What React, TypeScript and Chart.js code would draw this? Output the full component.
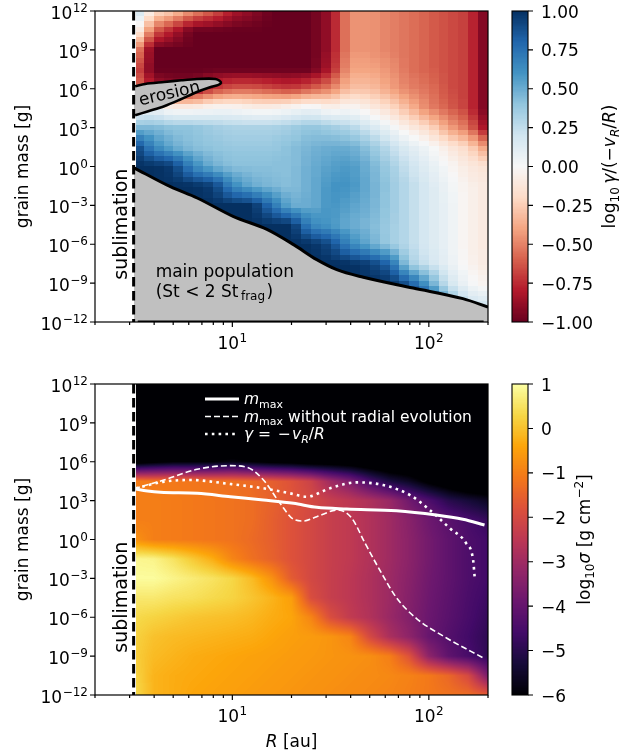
import React, { useEffect, useRef } from 'react';
import { Chart, registerables } from 'chart.js';

Chart.register(...registerables);

const FONT = '"DejaVu Sans", "Noto Sans", sans-serif';

/* ---------------- axes & ticks ---------------- */
const X_MIN = 2;
const X_MAX = 200;
const Y_MIN = 1e-12;
const Y_MAX = 1e12;
const X_MAJOR_TICKS = [10, 100];
const X_MAJOR_LABEL_EXP = [1, 2];
const X_MINOR_TICKS = [2, 3, 4, 5, 6, 7, 8, 9, 20, 30, 40, 50, 60, 70, 80, 90, 200];
const Y_TICK_EXP = [12, 9, 6, 3, 0, -3, -6, -9, -12];
const GAMMA_CB_TICKS = [1, 0.75, 0.5, 0.25, 0, -0.25, -0.5, -0.75, -1];
const SIGMA_CB_TICKS = [1, 0, -1, -2, -3, -4, -5, -6];
const SUBLIMATION_R = 3.145;

/* ---------------- field grids ---------------- */
// node positions: log10 R (columns) and log10 m (rows)
const FIELD_LOGR = [0.5, 0.6, 0.7, 0.8, 0.9, 1.0, 1.1, 1.2, 1.3, 1.4, 1.5, 1.6, 1.7, 1.8, 1.9, 2.0, 2.1, 2.2, 2.3];
const FIELD_LOGM = [12, 10.5, 9, 7.5, 6, 4.5, 3, 1.5, 0, -1.5, -3, -4.5, -6, -7.5, -9, -10.5, -12];
const FIELD_START_LOGR = 0.508;

// log10 gamma/(-vR/R); one column per FIELD_LOGR entry, values top (1e12) to bottom (1e-12)
const GAMMA_COLS = [
  [0.3, 0.05, -0.4, -0.6, -0.5, 0.0, 0.45, 0.95, 1, 1, 1, 1, 1, 1, 1, 1, 1],
  [-0.15, -0.6, -1, -1, -0.8, 0.05, 0.45, 0.65, 1, 1, 1, 1, 1, 1, 1, 1, 1],
  [-0.25, -0.8, -1, -1, -0.9, -0.05, 0.4, 0.5, 0.95, 1, 1, 1, 1, 1, 1, 1, 1],
  [-0.45, -1, -1, -1, -0.9, -0.05, 0.4, 0.42, 0.65, 1, 1, 1, 1, 1, 1, 1, 1],
  [-0.6, -1, -1, -1, -0.7, 0, 0.35, 0.4, 0.48, 0.95, 1, 1, 1, 1, 1, 1, 1],
  [-0.8, -1, -1, -1, -0.6, 0, 0.32, 0.38, 0.42, 0.65, 1, 1, 1, 1, 1, 1, 1],
  [-0.9, -1, -1, -1, -0.6, -0.05, 0.32, 0.38, 0.42, 0.5, 1, 1, 1, 1, 1, 1, 1],
  [-1, -1, -1, -1, -0.65, -0.05, 0.32, 0.38, 0.42, 0.45, 0.75, 1, 1, 1, 1, 1, 1],
  [-1, -1, -1, -1, -0.7, 0, 0.35, 0.42, 0.42, 0.42, 0.5, 1, 1, 1, 1, 1, 1],
  [-1, -1, -1, -1, -0.6, 0.05, 0.4, 0.47, 0.5, 0.5, 0.5, 0.65, 1, 1, 1, 1, 1],
  [-0.85, -0.85, -0.85, -0.8, -0.5, -0.05, 0.35, 0.5, 0.55, 0.6, 0.6, 0.58, 0.9, 1, 1, 1, 1],
  [-0.45, -0.45, -0.45, -0.4, -0.3, 0, 0.3, 0.5, 0.58, 0.6, 0.55, 0.5, 0.65, 1, 1, 1, 1],
  [-0.45, -0.45, -0.45, -0.4, -0.3, -0.08, 0.18, 0.4, 0.48, 0.5, 0.48, 0.45, 0.5, 0.95, 1, 1, 1],
  [-0.5, -0.5, -0.5, -0.45, -0.4, -0.18, 0.05, 0.25, 0.35, 0.38, 0.38, 0.36, 0.35, 0.8, 1, 1, 1],
  [-0.55, -0.55, -0.55, -0.55, -0.5, -0.33, -0.08, 0.12, 0.22, 0.27, 0.27, 0.27, 0.27, 0.35, 0.85, 1, 1],
  [-0.6, -0.6, -0.6, -0.6, -0.55, -0.5, -0.2, 0.03, 0.1, 0.15, 0.15, 0.15, 0.15, 0.2, 0.55, 1, 1],
  [-0.65, -0.65, -0.65, -0.65, -0.65, -0.6, -0.4, -0.1, 0, 0.05, 0.07, 0.07, 0.07, 0.08, 0.2, 0.5, 1],
  [-0.7, -0.7, -0.7, -0.7, -0.7, -0.7, -0.55, -0.2, -0.1, -0.05, -0.05, -0.05, -0.05, -0.03, 0.03, 0.2, 0.5],
  [-1, -1, -1, -1, -1, -1, -0.9, -0.45, -0.15, -0.1, -0.1, -0.1, -0.1, -0.1, -0.05, 0.15, 0.3],
];

// log10 sigma [g cm^-2]; one column per FIELD_LOGR entry, values top to bottom
const SIGMA_COLS = [
  [-7, -7, -7, -7, -6.5, -1.0, -1.0, -1.0, -0.7, 0.85, 0.95, 0.6, 0.35, 0.25, 0.2, 0.3, 0.4],
  [-7, -7, -7, -7, -6.2, -1.1, -1.0, -1.0, -1.0, 0.8, 0.95, 0.6, 0.25, 0.0, -0.1, -0.2, -0.2],
  [-7, -7, -7, -7, -6.0, -1.1, -1.05, -1.05, -1.05, 0.5, 0.8, 0.5, 0.15, -0.1, -0.2, -0.3, -0.3],
  [-7, -7, -7, -7, -6.0, -1.15, -1.1, -1.1, -1.1, 0.1, 0.65, 0.45, 0.05, -0.15, -0.3, -0.35, -0.4],
  [-7, -7, -7, -7, -6.0, -1.2, -1.15, -1.15, -1.15, -0.3, 0.5, 0.35, 0.0, -0.2, -0.35, -0.4, -0.45],
  [-7, -7, -7, -7, -5.8, -1.25, -1.2, -1.2, -1.2, -0.9, 0.3, 0.25, -0.05, -0.25, -0.4, -0.45, -0.5],
  [-7, -7, -7, -7, -6.0, -1.35, -1.3, -1.3, -1.35, -1.25, -0.1, 0.05, -0.15, -0.3, -0.45, -0.5, -0.55],
  [-7, -7, -7, -7, -6.2, -1.55, -1.5, -1.55, -1.55, -1.5, -0.7, -0.2, -0.3, -0.4, -0.5, -0.55, -0.6],
  [-7, -7, -7, -7, -6.3, -1.8, -1.75, -1.8, -1.8, -1.8, -1.6, -0.5, -0.4, -0.5, -0.55, -0.6, -0.65],
  [-7, -7, -7, -7, -6.5, -2.2, -2.0, -2.05, -2.05, -2.05, -2.05, -1.9, -0.9, -0.55, -0.6, -0.65, -0.7],
  [-7, -7, -7, -7, -6.5, -3.0, -2.3, -2.3, -2.3, -2.3, -2.3, -2.3, -1.9, -0.65, -0.65, -0.7, -0.75],
  [-7, -7, -7, -7, -6.6, -3.6, -2.5, -2.45, -2.45, -2.45, -2.5, -2.5, -2.4, -0.9, -0.7, -0.75, -0.8],
  [-7, -7, -7, -7, -6.8, -4.5, -2.75, -2.7, -2.7, -2.7, -2.75, -2.75, -2.7, -2.0, -0.75, -0.8, -0.85],
  [-7, -7, -7, -7, -7, -5.2, -3.1, -3.0, -3.0, -3.0, -3.05, -3.05, -3.1, -2.8, -1.0, -0.85, -0.9],
  [-7, -7, -7, -7, -7, -5.6, -3.8, -3.4, -3.35, -3.35, -3.4, -3.45, -3.5, -3.3, -1.8, -0.95, -1.0],
  [-7, -7, -7, -7, -7, -6.2, -4.4, -3.85, -3.75, -3.75, -3.8, -3.85, -3.9, -3.95, -3.3, -1.1, -1.1],
  [-7, -7, -7, -7, -7, -6.6, -5.0, -4.2, -4.1, -4.1, -4.1, -4.15, -4.2, -4.3, -4.1, -1.4, -1.2],
  [-7, -7, -7, -7, -7, -7, -5.3, -4.5, -4.4, -4.4, -4.4, -4.45, -4.5, -4.6, -4.5, -2.0, -1.3],
  [-7, -7, -7, -7, -7, -7, -5.6, -4.8, -4.6, -4.6, -4.6, -4.7, -4.8, -4.9, -4.9, -3.6, -1.6],
];

/* ---------------- curves (R in au, log10 m in g) ---------------- */
const BOUNDARY_R = [3.16, 4.84, 6.62, 10.15, 15, 20.5, 26.9, 34, 46.4, 83.2, 149, 200];
const BOUNDARY_LOGM = [-0.1, -1.56, -2.43, -3.87, -4.85, -6.03, -7.19, -7.96, -8.55, -9.38, -10.2, -10.84];
// lower edge of the main-population contour (runs along the bottom of the plot)
const BOUNDARY_FLOOR_R = [3.3, 190];
const BOUNDARY_FLOOR_LOGM = [-12, -12];

const EROSION_R = [3.2, 3.6, 4.5, 5.5, 6.6, 7.6, 8.2, 8.6, 8.75, 8.5, 7.7, 6.6, 5.4, 4.5, 3.7, 3.2];
const EROSION_LOGM = [6.2, 6.37, 6.52, 6.65, 6.75, 6.78, 6.75, 6.62, 6.45, 6.3, 6.12, 5.75, 5.15, 4.65, 4.25, 3.95];

const MMAX_R = [3.16, 3.7, 4.31, 6.62, 9.77, 14.4, 20.5, 26.9, 38.2, 68.5, 109, 149, 192];
const MMAX_LOGM = [3.92, 3.74, 3.64, 3.56, 3.3, 3.05, 2.79, 2.48, 2.35, 2.22, 1.89, 1.56, 1.12];

const NORAD_R = [3.16, 4.48, 6.62, 9.77, 11.9, 14.4, 17.5, 20.5, 23, 26.9, 34.5, 40.5, 47.4, 57.5, 68.5, 86.6, 123, 189];
const NORAD_LOGM = [3.92, 4.59, 5.42, 5.7, 5.57, 4.59, 2.79, 1.56, 1.43, 1.76, 2.28, 1.65, -0.3, -2.61, -4.5, -6.1, -7.6, -9.13];

const GAMMA_R = [3.22, 4.48, 6.12, 9.77, 14.4, 19.7, 23.9, 31.4, 43, 58.6, 80.2, 101, 128, 155, 168, 171];
const GAMMA_LOGM = [3.95, 4.46, 4.59, 4.28, 3.95, 3.56, 3.3, 3.95, 4.41, 4.2, 3.43, 2.28, 0.86, -0.3, -1.58, -2.87];

/* ---------------- styles ---------------- */
const GRAY = '#c0c0c0';
const RDBU = ['#67001f', '#b2182b', '#d6604d', '#f4a582', '#fddbc7', '#f7f7f7', '#d1e5f0', '#92c5de', '#4393c3', '#2166ac', '#053061'];
const INFERNO = ['#000004', '#160b39', '#420a68', '#6a176e', '#932667', '#bc3754', '#dd513a', '#f37819', '#fca50a', '#f6d746', '#fcffa4'];
const CELL = { dr: 0.05, dm: 0.4 };
const SUBLIM_DASH = [9.5, 4.5];
const NORAD_DASH = [6, 3];
const GAMMA_DASH = [2.6, 4.2];

/* ---------------- helpers ---------------- */
function hexToRgb(h: string) {
  return [parseInt(h.slice(1, 3), 16), parseInt(h.slice(3, 5), 16), parseInt(h.slice(5, 7), 16)];
}
function makeLut(stops: string[]) {
  const rgb = stops.map(hexToRgb);
  const n = rgb.length - 1;
  const lut: number[][] = [];
  for (let k = 0; k < 256; k++) {
    const f = (k / 255) * n;
    const i = Math.min(n - 1, Math.floor(f));
    const u = f - i;
    lut.push([0, 1, 2].map((c) => Math.round(rgb[i][c] * (1 - u) + rgb[i + 1][c] * u)));
  }
  return lut;
}
const RDBU_LUT = makeLut(RDBU);
const INFERNO_LUT = makeLut(INFERNO);
function lutColor(lut: number[][], t: number) {
  const k = Math.max(0, Math.min(255, Math.round(t * 255)));
  return lut[k];
}
const gammaRGB = (v: number) => lutColor(RDBU_LUT, (v + 1) / 2);
const sigmaRGB = (v: number) => lutColor(INFERNO_LUT, (v + 6) / 7);
const css = (c: number[]) => `rgb(${c[0]},${c[1]},${c[2]})`;

function sampleField(cols: number[][], lr: number, lm: number) {
  const nR = FIELD_LOGR.length;
  const nM = FIELD_LOGM.length;
  let fi = (lr - FIELD_LOGR[0]) / (FIELD_LOGR[1] - FIELD_LOGR[0]);
  fi = Math.max(0, Math.min(nR - 1, fi));
  const i0 = Math.min(nR - 2, Math.floor(fi));
  const u = fi - i0;
  let fj = (FIELD_LOGM[0] - lm) / (FIELD_LOGM[0] - FIELD_LOGM[1]);
  fj = Math.max(0, Math.min(nM - 1, fj));
  const j0 = Math.min(nM - 2, Math.floor(fj));
  const w = fj - j0;
  const a = cols[i0][j0], b = cols[i0 + 1][j0], c = cols[i0][j0 + 1], d = cols[i0 + 1][j0 + 1];
  return (a * (1 - u) + b * u) * (1 - w) + (c * (1 - u) + d * u) * w;
}

function renderField(chart: any, cols: number[][], toRGB: (v: number) => number[], cell: any) {
  const { ctx, chartArea: a } = chart;
  const xs = chart.scales.x;
  const ys = chart.scales.y;
  const x0 = Math.round(xs.getPixelForValue(Math.pow(10, FIELD_START_LOGR)));
  const x1 = Math.round(a.right);
  const y0 = Math.round(a.top);
  const y1 = Math.round(a.bottom);
  const w = x1 - x0;
  const h = y1 - y0;
  if (w <= 0 || h <= 0) return;
  const off = document.createElement('canvas');
  off.width = w;
  off.height = h;
  const octx = off.getContext('2d')!;
  const img = octx.createImageData(w, h);
  const d = img.data;
  const lr: number[] = [];
  const lm: number[] = [];
  for (let i = 0; i < w; i++) {
    let v = Math.log10(xs.getValueForPixel(x0 + i + 0.5));
    if (cell) v = FIELD_LOGR[0] + (Math.floor((v - FIELD_LOGR[0]) / cell.dr) + 0.5) * cell.dr;
    lr.push(v);
  }
  for (let j = 0; j < h; j++) {
    let v = Math.log10(ys.getValueForPixel(y0 + j + 0.5));
    if (cell) v = FIELD_LOGM[0] - (Math.floor((FIELD_LOGM[0] - v) / cell.dm) + 0.5) * cell.dm;
    lm.push(v);
  }
  for (let j = 0; j < h; j++) {
    for (let i = 0; i < w; i++) {
      const c = toRGB(sampleField(cols, lr[i], lm[j]));
      const k = (j * w + i) * 4;
      d[k] = c[0];
      d[k + 1] = c[1];
      d[k + 2] = c[2];
      d[k + 3] = 255;
    }
  }
  octx.putImageData(img, 0, 0);
  ctx.save();
  ctx.imageSmoothingEnabled = false;
  ctx.drawImage(off, x0, y0);
  ctx.restore();
}

type Part = { t: string; size: number; italic?: boolean; dy?: number; dx?: number };
function setFont(ctx: any, p: Part) {
  ctx.font = `${p.italic ? 'italic ' : ''}${p.size}px ${FONT}`;
}
function partsWidth(ctx: any, parts: Part[]) {
  let w = 0;
  for (const p of parts) {
    setFont(ctx, p);
    w += ctx.measureText(p.t).width + (p.dx || 0);
  }
  return w;
}
function drawParts(ctx: any, parts: Part[], x: number, y: number, align: string) {
  const w = partsWidth(ctx, parts);
  let cx = align === 'left' ? x : align === 'center' ? x - w / 2 : x - w;
  ctx.textAlign = 'left';
  ctx.textBaseline = 'alphabetic';
  for (const p of parts) {
    setFont(ctx, p);
    cx += p.dx || 0;
    ctx.fillText(p.t, cx, y + (p.dy || 0));
    cx += ctx.measureText(p.t).width;
  }
}
function drawRotated(ctx: any, parts: Part[], x: number, y: number, angle: number, dy = 0) {
  ctx.save();
  ctx.translate(x, y);
  ctx.rotate(angle);
  drawParts(ctx, parts, 0, dy, 'center');
  ctx.restore();
}
function expParts(e: number): Part[] {
  return [
    { t: '10', size: 17 },
    { t: (e < 0 ? '\u2212' : '') + Math.abs(e), size: 12, dy: -7, dx: 0.5 },
  ];
}
const minus = (s: string) => s.replace('-', '\u2212');

function drawAxes(chart: any, withXTitle: boolean) {
  const { ctx, chartArea: a } = chart;
  const xs = chart.scales.x;
  const ys = chart.scales.y;
  ctx.save();
  ctx.strokeStyle = '#000';
  ctx.fillStyle = '#000';
  ctx.lineWidth = 1.2;
  ctx.setLineDash([]);
  ctx.strokeRect(a.left, a.top, a.right - a.left, a.bottom - a.top);
  ctx.beginPath();
  for (const v of X_MINOR_TICKS) {
    const px = xs.getPixelForValue(v);
    ctx.moveTo(px, a.bottom);
    ctx.lineTo(px, a.bottom + 3);
  }
  for (const v of X_MAJOR_TICKS) {
    const px = xs.getPixelForValue(v);
    ctx.moveTo(px, a.bottom);
    ctx.lineTo(px, a.bottom + 5);
  }
  for (const e of Y_TICK_EXP) {
    const py = ys.getPixelForValue(Math.pow(10, e));
    ctx.moveTo(a.left - 5, py);
    ctx.lineTo(a.left, py);
  }
  ctx.stroke();
  X_MAJOR_TICKS.forEach((v, i) => {
    drawParts(ctx, expParts(X_MAJOR_LABEL_EXP[i]), xs.getPixelForValue(v), a.bottom + 27.3, 'center');
  });
  Y_TICK_EXP.forEach((e) => {
    drawParts(ctx, expParts(e), a.left - 7, ys.getPixelForValue(Math.pow(10, e)) + 8, 'right');
  });
  drawRotated(ctx, [{ t: 'grain mass [g]', size: 17 }], a.left - 67, (a.top + a.bottom) / 2, -Math.PI / 2);
  if (withXTitle) {
    drawParts(ctx, [{ t: 'R', size: 17, italic: true }, { t: ' [au]', size: 17 }], (a.left + a.right) / 2, a.bottom + 51.7, 'center');
  }
  // sublimation label (left of the sublimation line)
  drawRotated(ctx, [{ t: 'sublimation', size: 19 }], xs.getPixelForValue(2.9), ys.getPixelForValue(Math.pow(10, -4.45)), -Math.PI / 2);
  ctx.restore();
}

function drawColorbar(chart: any, toRGB: (v: number) => number[], ticks: number[], fmt: (v: number) => string, label: Part[], labelDx: number) {
  const { ctx, chartArea: a } = chart;
  const cb = chart.scales.cb;
  const x0 = a.right + 24;
  const w = 16;
  ctx.save();
  const top = Math.round(a.top);
  const bot = Math.round(a.bottom);
  for (let py = top; py < bot; py++) {
    ctx.fillStyle = css(toRGB(cb.getValueForPixel(py + 0.5)));
    ctx.fillRect(x0, py, w, 1);
  }
  ctx.strokeStyle = '#000';
  ctx.lineWidth = 1.1;
  ctx.setLineDash([]);
  ctx.strokeRect(x0, a.top, w, a.bottom - a.top);
  ctx.beginPath();
  for (const t of ticks) {
    const py = cb.getPixelForValue(t);
    ctx.moveTo(x0 + w, py);
    ctx.lineTo(x0 + w + 5, py);
  }
  ctx.stroke();
  ctx.fillStyle = '#000';
  for (const t of ticks) {
    drawParts(ctx, [{ t: fmt(t), size: 17 }], x0 + w + 13, cb.getPixelForValue(t) + 6.5, 'left');
  }
  drawRotated(ctx, label, a.right + labelDx, (a.top + a.bottom) / 2, -Math.PI / 2);
  ctx.restore();
}

const pts = (rs: number[], lms: number[]) => rs.map((r, i) => ({ x: r, y: Math.pow(10, lms[i]) }));

function lineDs(data: any[], opts: any) {
  return { data, showLine: true, pointRadius: 0, pointHoverRadius: 0, fill: false, borderWidth: 1, ...opts };
}

function baseOptions(padding: any, cbMin: number, cbMax: number) {
  return {
    responsive: false,
    maintainAspectRatio: false,
    animation: false,
    devicePixelRatio: 1,
    events: [],
    layout: { autoPadding: false, padding },
    plugins: { legend: { display: false }, tooltip: { enabled: false }, title: { display: false } },
    scales: {
      x: { type: 'logarithmic', min: X_MIN, max: X_MAX, display: false },
      y: { type: 'logarithmic', min: Y_MIN, max: Y_MAX, display: false },
      cb: { type: 'linear', axis: 'y', position: 'right', min: cbMin, max: cbMax, display: false },
    },
  };
}

const sublimationData = () => [
  { x: SUBLIMATION_R, y: Y_MAX },
  { x: SUBLIMATION_R, y: Y_MIN },
];

function topConfig(): any {
  const erosion = pts(EROSION_R, EROSION_LOGM);
  const erosionClosed = [...erosion, { ...erosion[0] }];
  const plugin = {
    id: 'gammaPanel',
    beforeDatasetsDraw(chart: any) {
      renderField(chart, GAMMA_COLS, gammaRGB, CELL);
    },
    afterDraw(chart: any) {
      const { ctx } = chart;
      const xs = chart.scales.x;
      const ys = chart.scales.y;
      ctx.save();
      ctx.fillStyle = '#000';
      drawRotated(ctx, [{ t: 'erosion', size: 17 }], xs.getPixelForValue(4.79), ys.getPixelForValue(Math.pow(10, 5.6)), (-13 * Math.PI) / 180, 4.6);
      const mx = xs.getPixelForValue(4.07);
      const my = ys.getPixelForValue(Math.pow(10, -8.5));
      drawParts(ctx, [{ t: 'main population', size: 17 }], mx, my, 'left');
      drawParts(
        ctx,
        [
          { t: '(St < 2 St', size: 17 },
          { t: 'frag', size: 12, dy: 3.5, dx: 2.5 },
          { t: ')', size: 17, dx: 1.5 },
        ],
        mx,
        my + 20,
        'left'
      );
      ctx.restore();
      drawAxes(chart, false);
      drawColorbar(
        chart,
        gammaRGB,
        GAMMA_CB_TICKS,
        (v) => minus(v.toFixed(2)),
        [
          { t: 'log', size: 17 },
          { t: '10', size: 12, dy: 4 },
          { t: '\u2009', size: 17 },
          { t: '\u03b3', size: 17, italic: true },
          { t: '/(\u2212', size: 17 },
          { t: 'v', size: 17, italic: true },
          { t: 'R', size: 12, italic: true, dy: 4 },
          { t: '/', size: 17 },
          { t: 'R', size: 17, italic: true },
          { t: ')', size: 17 },
        ],
        126.5
      );
    },
  };
  return {
    type: 'scatter',
    data: {
      datasets: [
        lineDs(sublimationData(), { borderColor: '#000', borderWidth: 3, borderDash: SUBLIM_DASH, order: 0 }),
        lineDs(erosion, { borderColor: '#000', borderWidth: 2.6, tension: 0.3, order: 1 }),
        lineDs(erosionClosed, { borderColor: 'rgba(0,0,0,0)', borderWidth: 0, backgroundColor: GRAY, fill: 'shape', tension: 0.3, order: 2 }),
        lineDs(pts(BOUNDARY_FLOOR_R, BOUNDARY_FLOOR_LOGM), { borderColor: '#000', borderWidth: 3, order: 3 }),
        lineDs(pts(BOUNDARY_R, BOUNDARY_LOGM), {
          borderColor: '#000',
          borderWidth: 3,
          backgroundColor: GRAY,
          fill: 'start',
          cubicInterpolationMode: 'monotone',
          order: 4,
        }),
      ],
    },
    options: baseOptions({ left: 95, right: 132, top: 11, bottom: 38 }, -1, 1),
    plugins: [plugin],
  };
}

function bottomConfig(): any {
  const plugin = {
    id: 'sigmaPanel',
    beforeDatasetsDraw(chart: any) {
      renderField(chart, SIGMA_COLS, sigmaRGB, null);
    },
    afterDraw(chart: any) {
      const { ctx, chartArea: a } = chart;
      const rows = [
        { y: 15, lw: 3, dash: [] as number[], parts: [{ t: 'm', size: 15.5, italic: true }, { t: 'max', size: 11, dy: 3.5 }] },
        {
          y: 32.5,
          lw: 1.6,
          dash: NORAD_DASH,
          parts: [
            { t: 'm', size: 15.5, italic: true },
            { t: 'max', size: 11, dy: 3.5 },
            { t: ' without radial evolution', size: 15.5 },
          ],
        },
        {
          y: 50,
          lw: 2.6,
          dash: GAMMA_DASH,
          parts: [
            { t: '\u03b3', size: 15.5, italic: true },
            { t: ' = ', size: 15.5 },
            { t: '\u2212', size: 15.5, dx: 2 },
            { t: 'v', size: 15.5, italic: true, dx: 1 },
            { t: 'R', size: 11, italic: true, dy: 3.5 },
            { t: '/', size: 15.5 },
            { t: 'R', size: 15.5, italic: true },
          ],
        },
      ];
      ctx.save();
      ctx.strokeStyle = '#fff';
      ctx.fillStyle = '#fff';
      for (const r of rows) {
        ctx.lineWidth = r.lw;
        ctx.setLineDash(r.dash);
        ctx.beginPath();
        ctx.moveTo(a.left + 110, a.top + r.y);
        ctx.lineTo(a.left + 144, a.top + r.y);
        ctx.stroke();
        drawParts(ctx, r.parts as Part[], a.left + 149, a.top + r.y + 5, 'left');
      }
      ctx.restore();
      drawAxes(chart, true);
      drawColorbar(
        chart,
        sigmaRGB,
        SIGMA_CB_TICKS,
        (v) => minus(String(v)),
        [
          { t: 'log', size: 17 },
          { t: '10', size: 12, dy: 4 },
          { t: '\u03c3', size: 17, italic: true },
          { t: ' [g cm', size: 17 },
          { t: '\u22122', size: 12, dy: -7 },
          { t: ']', size: 17 },
        ],
        101.5
      );
    },
  };
  return {
    type: 'scatter',
    data: {
      datasets: [
        lineDs(sublimationData(), { borderColor: '#000', borderWidth: 3, borderDash: SUBLIM_DASH, order: 0 }),
        lineDs(pts(MMAX_R, MMAX_LOGM), { borderColor: '#fff', borderWidth: 3, cubicInterpolationMode: 'monotone', order: 1 }),
        lineDs(pts(NORAD_R, NORAD_LOGM), { borderColor: '#fff', borderWidth: 1.6, borderDash: NORAD_DASH, cubicInterpolationMode: 'monotone', order: 2 }),
        lineDs(pts(GAMMA_R, GAMMA_LOGM), { borderColor: '#fff', borderWidth: 2.6, borderDash: GAMMA_DASH, cubicInterpolationMode: 'monotone', order: 3 }),
      ],
    },
    options: baseOptions({ left: 95, right: 132, top: 24, bottom: 61 }, -6, 1),
    plugins: [plugin],
  };
}

export default function App() {
  const topRef = useRef<HTMLCanvasElement>(null);
  const botRef = useRef<HTMLCanvasElement>(null);
  useEffect(() => {
    const c1 = new Chart(topRef.current as HTMLCanvasElement, topConfig());
    const c2 = new Chart(botRef.current as HTMLCanvasElement, bottomConfig());
    return () => {
      c1.destroy();
      c2.destroy();
    };
  }, []);
  return (
    <div style={{ position: 'absolute', left: 0, top: 0, width: 620, height: 756, background: '#fff' }}>
      <canvas ref={topRef} width={620} height={360} style={{ position: 'absolute', left: 0, top: 0, width: 620, height: 360 }} />
      <canvas ref={botRef} width={620} height={396} style={{ position: 'absolute', left: 0, top: 360, width: 620, height: 396 }} />
    </div>
  );
}
